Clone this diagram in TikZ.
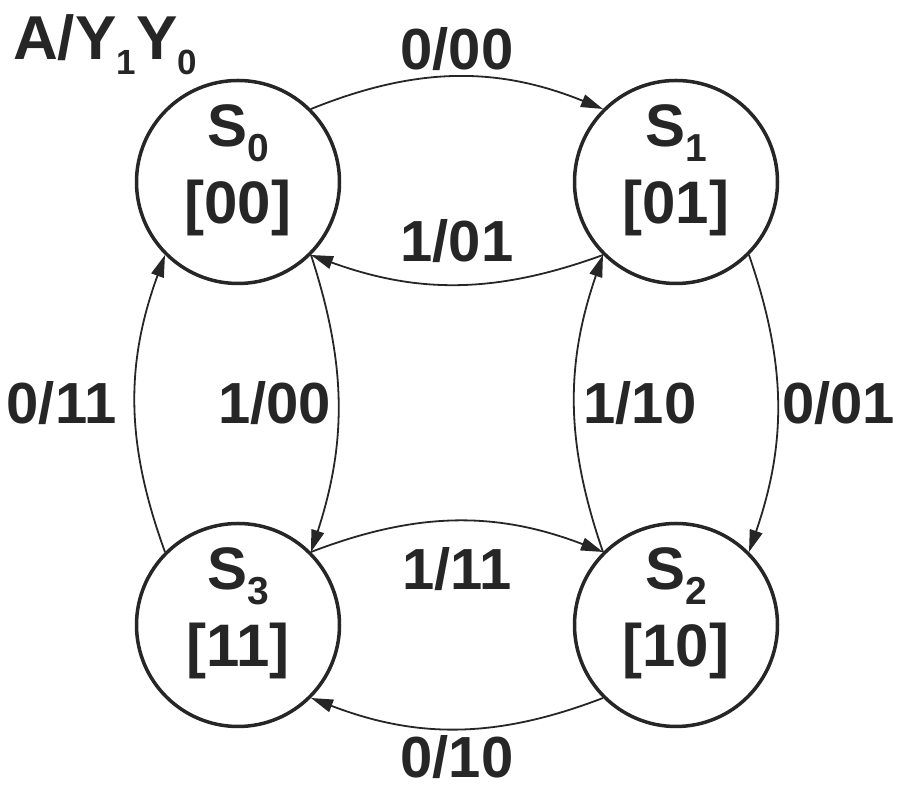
\documentclass[tikz,border=0pt]{standalone}
\usepackage{fontspec}
\setmainfont{Liberation Sans}
\usetikzlibrary{arrows.meta}
\definecolor{ink}{RGB}{38,38,38}
% lowered subscripts for the state names and the heading
\newcommand\stsub[1]{\raisebox{-15pt}{\fontsize{39}{39}\selectfont #1}}
\newcommand\ttlsub[1]{\raisebox{-15pt}{\fontsize{35}{35}\selectfont #1}}

\begin{document}
\begin{tikzpicture}[x=1pt,y=1pt,
  state/.style={circle, draw=ink, line width=3.5pt, minimum size=203pt, inner sep=0pt},
  statetext/.style={text=ink, align=center, font=\fontsize{60}{77}\selectfont\bfseries, inner sep=0pt},
  trans/.style={draw=ink, line width=1.8pt, -{Triangle[length=22pt,width=13pt]}},
  lbl/.style={text=ink, font=\fontsize{58}{70}\selectfont\bfseries, inner sep=0pt},
]
\useasboundingbox (0,0) rectangle (898,786);

% heading
\node[lbl, font=\fontsize{62}{72}\selectfont\bfseries, anchor=base west] (title) at (13,726) {A/Y\ttlsub{1}Y\ttlsub{0}};

% states
\node[state] (S0) at (238,604) {};
\node[state] (S1) at (676,604) {};
\node[state] (S2) at (676,161) {};
\node[state] (S3) at (238,161) {};

\node[statetext] (T0) at ([yshift=12pt]S0.center) {S\stsub{0}\\{[00]}};
\node[statetext] (T1) at ([yshift=12pt]S1.center) {S\stsub{1}\\{[01]}};
\node[statetext] (T2) at ([yshift=12pt]S2.center) {S\stsub{2}\\{[10]}};
\node[statetext] (T3) at ([yshift=12pt]S3.center) {S\stsub{3}\\{[11]}};

% transitions
\draw[trans] (S0.45) to[bend left=22] node[lbl, above=5pt] {0/00} (S1.135);
\draw[trans] (S1.225) to[bend left=20] node[lbl, above=21pt] {1/01} (S0.-45);
\draw[trans] (S0.-45) to[bend left=18] node[lbl, left=6pt] {1/00} (S3.45);
\draw[trans] (S3.135) to[bend left=20] node[lbl, left=18pt] {0/11} (S0.225);
\draw[trans] (S1.-45) to[bend left=19] node[lbl, right=4pt] {0/01} (S2.45);
\draw[trans] (S2.135) to[bend left=19] node[lbl, right=8pt] {1/10} (S1.225);
\draw[trans] (S3.45) to[bend left=21] node[lbl, below=25pt] {1/11} (S2.135);
\draw[trans] (S2.-135) to[bend left=21] node[lbl, below=6pt] {0/10} (S3.-45);
\end{tikzpicture}
\end{document}
